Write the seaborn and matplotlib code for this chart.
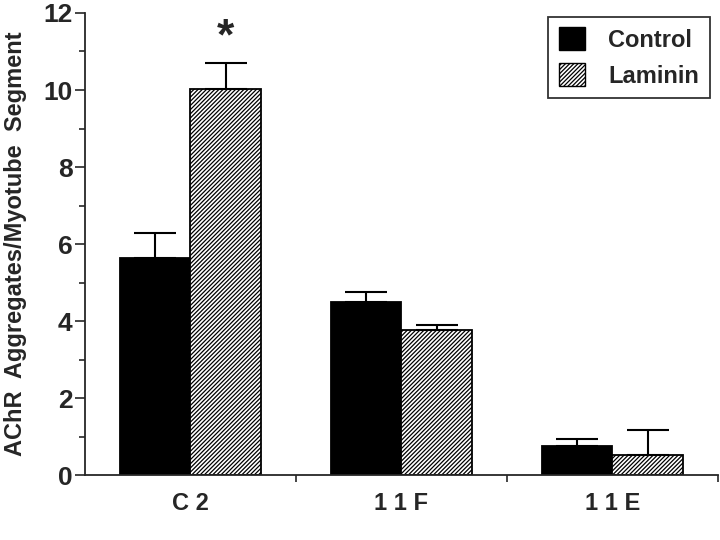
import pandas as pd
import seaborn as sns
import matplotlib.pyplot as plt
from matplotlib.patches import Patch

# data
cell_lines = ["C2", "11F", "11E"]
treatments = ["Control", "Laminin"]
control_mean = [5.63, 4.50, 0.75]
laminin_mean = [10.03, 3.76, 0.52]
control_err = [0.66, 0.25, 0.20]
laminin_err = [0.67, 0.15, 0.65]

df = pd.DataFrame({
    "line": cell_lines * 2,
    "treatment": ["Control"] * 3 + ["Laminin"] * 3,
    "value": control_mean + laminin_mean,
})

sns.set_style("ticks")
plt.rcParams["font.family"] = ["Liberation Sans", "DejaVu Sans"]
plt.rcParams["font.weight"] = "bold"
plt.rcParams["hatch.linewidth"] = 0.9

fig = plt.figure(figsize=(7.2, 5.4), dpi=100)
ax = fig.add_axes([0.118, 0.12, 0.879, 0.856])

sns.barplot(data=df, x="line", y="value", hue="treatment",
            palette=["black", "white"], width=0.67, errorbar=None,
            edgecolor="black", linewidth=1.3, saturation=1, ax=ax, legend=False)

bars = [p for p in ax.patches if p.get_height() > 0]
bars = sorted(bars, key=lambda p: p.get_x())
# bars sorted by x: C2 ctrl, C2 lam, 11F ctrl, ...
for k, p in enumerate(bars):
    i = k // 2
    if k % 2 == 1:
        p.set_hatch("////////")
        e = laminin_err[i]
    else:
        e = control_err[i]
    xc = p.get_x() + p.get_width() / 2
    ax.errorbar(xc, p.get_height(), yerr=[[0], [e]], fmt="none",
                ecolor="black", elinewidth=1.5, capsize=15, capthick=1.5)

# significance star over C2 laminin
c2_lam = bars[1]
ax.text(c2_lam.get_x() + c2_lam.get_width() / 2, laminin_mean[0] + laminin_err[0] + 0.65,
        "*", ha="center", va="center", fontsize=32, fontweight="bold")

ax.set_ylim(0, 12)
ax.set_xlim(-0.5, 2.5)
ax.set_yticks(range(0, 13, 2))
ax.set_yticks(range(1, 12, 2), minor=True)
ax.set_xticks([0, 1, 2])
ax.set_xticklabels(["C 2", "1 1 F", "1 1 E"], fontsize=17, fontweight="bold")
ax.set_xticks([0.5, 1.5, 2.5], minor=True)
ax.tick_params(axis="x", which="major", length=0, pad=12)
ax.tick_params(axis="x", which="minor", length=5, width=1.2, direction="out")
ax.tick_params(axis="y", which="major", length=7, width=1.2, labelsize=19, pad=2)
ax.tick_params(axis="y", which="minor", length=4, width=1.2)
for lab in ax.get_yticklabels():
    lab.set_fontweight("bold")

ax.set_xlabel("")
ax.set_ylabel("AChR  Aggregates/Myotube  Segment", fontsize=17, fontweight="bold", labelpad=12)
sns.despine(ax=ax)
ax.spines["left"].set_linewidth(1.3)
ax.spines["bottom"].set_linewidth(1.3)

handles = [Patch(facecolor="black", edgecolor="black", label="Control"),
           Patch(facecolor="white", edgecolor="black", hatch="////////", label="Laminin")]
leg = ax.legend(handles=handles, loc="upper right", bbox_to_anchor=(0.987, 0.992),
                borderaxespad=0, frameon=True, fancybox=False, edgecolor="black",
                prop={"weight": "bold", "size": 17}, handlelength=1.1, handleheight=1.1,
                handletextpad=1.0, borderpad=0.45, labelspacing=0.5)
leg.get_frame().set_linewidth(1.3)

plt.savefig("out.png", dpi=100)
